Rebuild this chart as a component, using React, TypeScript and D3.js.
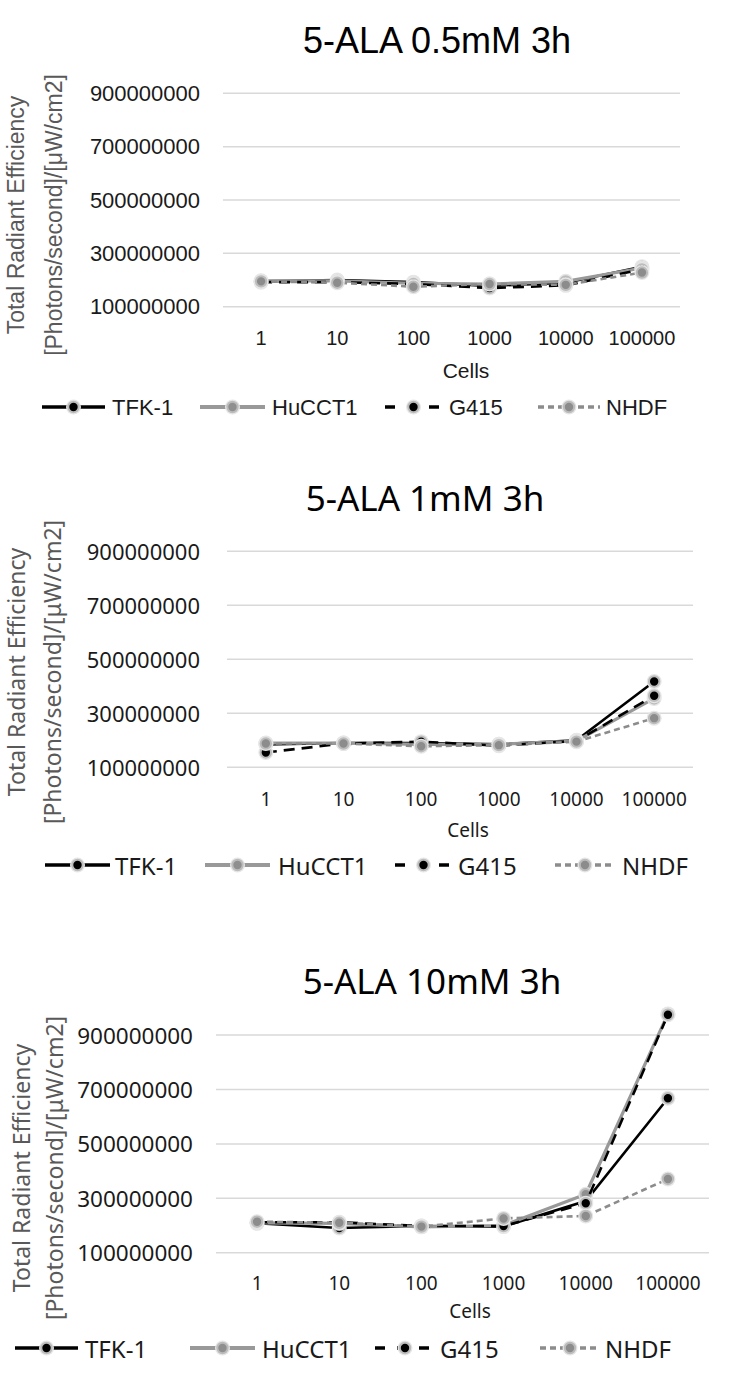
import React from "react";
import * as d3 from "d3";

const categories = ["1", "10", "100", "1000", "10000", "100000"];
const seriesNames = ["TFK-1", "HuCCT1", "G415", "NHDF"];
const yTicks = [100000000, 300000000, 500000000, 700000000, 900000000];
const chartTitles = ["5-ALA 0.5mM 3h", "5-ALA 1mM 3h", "5-ALA 10mM 3h"];

// values in units of 1e6
const c1TFK = [195, 200, 192, 178, 190, 250];
const c1HuCCT = [197, 197, 188, 185, 195, 245];
const c1G415 = [192, 192, 185, 170, 180, 240];
const c1NHDF = [195, 190, 175, 185, 182, 228];

const c2TFK = [185, 190, 190, 185, 200, 418];
const c2HuCCT = [190, 190, 185, 185, 198, 355];
const c2G415 = [155, 188, 195, 180, 198, 365];
const c2NHDF = [188, 188, 178, 182, 195, 282];

const c3TFK = [208, 191, 198, 196, 290, 668];
const c3HuCCT = [210, 208, 195, 200, 315, 978];
const c3G415 = [212, 212, 198, 198, 282, 975];
const c3NHDF = [214, 210, 196, 226, 235, 371];

const chartData = [
  [c1TFK, c1HuCCT, c1G415, c1NHDF],
  [c2TFK, c2HuCCT, c2G415, c2NHDF],
  [c3TFK, c3HuCCT, c3G415, c3NHDF],
];

const styles = [
  { stroke: "#000", width: 2.6, dash: "none", legDash: "none", fill: "#000" },
  { stroke: "#999", width: 3.2, dash: "none", legDash: "none", fill: "#8f8f8f" },
  { stroke: "#000", width: 2.6, dash: "11,7", legDash: "10,12", fill: "#000" },
  { stroke: "#8c8c8c", width: 2.6, dash: "6,4", legDash: "6,4", fill: "#8c8c8c" },
];

const layouts = [
  {
    font: "'Liberation Sans', Arial, sans-serif",
    left: 223, right: 680, y100: 306.7, per100: 26.67,
    titleX: 437, titleY: 40, titleSize: 36,
    yLabRight: 200, yLabSize: 22,
    xLabY: 338, xLabSize: 20,
    cellsX: 466, cellsY: 370, cellsSize: 21,
    ytX1: 24, ytX2: 62, ytY: 215, ytSize: 23,
    legY: 407, legSize: 22,
    leg: [
      { x1: 42, x2: 105, tx: 112 },
      { x1: 200, x2: 265, tx: 272 },
      { x1: 385, x2: 442, tx: 449 },
      { x1: 538, x2: 600, tx: 606 },
    ],
  },
  {
    font: "'Noto Sans', 'Open Sans', sans-serif",
    left: 227, right: 693, y100: 767.3, per100: 27,
    titleX: 425, titleY: 497, titleSize: 35,
    yLabRight: 200, yLabSize: 22,
    xLabY: 799, xLabSize: 19,
    cellsX: 468, cellsY: 830, cellsSize: 19,
    ytX1: 25, ytX2: 61, ytY: 672, ytSize: 23,
    legY: 865, legSize: 24,
    leg: [
      { x1: 45, x2: 110, tx: 115 },
      { x1: 205, x2: 270, tx: 278 },
      { x1: 395, x2: 452, tx: 458 },
      { x1: 555, x2: 615, tx: 622 },
    ],
  },
  {
    font: "'Noto Sans', 'Open Sans', sans-serif",
    left: 216, right: 709, y100: 1252.7, per100: 27.2,
    titleX: 432, titleY: 980, titleSize: 35,
    yLabRight: 193, yLabSize: 22.5,
    xLabY: 1283, xLabSize: 19,
    cellsX: 470, cellsY: 1311, cellsSize: 19,
    ytX1: 30, ytX2: 63, ytY: 1168, ytSize: 23,
    legY: 1348, legSize: 24,
    leg: [
      { x1: 15, x2: 78, tx: 85 },
      { x1: 190, x2: 255, tx: 262 },
      { x1: 375, x2: 435, tx: 440 },
      { x1: 540, x2: 600, tx: 605 },
    ],
  },
];

function Marker({ cx, cy, fill }: { cx: number; cy: number; fill: string }) {
  return (
    <g>
      <circle cx={cx} cy={cy} r={7.5} fill="#e6e6e6" />
      <circle cx={cx} cy={cy} r={5.2} fill={fill} stroke="#bcbcbc" strokeWidth={2} />
    </g>
  );
}

function Chart({ idx }: { idx: number }) {
  const L = layouts[idx];
  const data = chartData[idx];
  const x = d3.scaleBand<string>().domain(categories).range([L.left, L.right]);
  const y = d3
    .scaleLinear()
    .domain([100, 1000])
    .range([L.y100, L.y100 - 9 * L.per100]);
  const line = d3
    .line<number>()
    .x((_, i) => (x(categories[i]) as number) + x.bandwidth() / 2)
    .y((v) => y(v));
  return (
    <g fontFamily={L.font}>
      <text x={L.titleX} y={L.titleY} fontSize={L.titleSize} textAnchor="middle" dominantBaseline="central" fill="#000">
        {chartTitles[idx]}
      </text>
      {yTicks.map((t) => (
        <g key={t}>
          <line x1={L.left} x2={L.right} y1={y(t / 1e6)} y2={y(t / 1e6)} stroke="#d9d9d9" strokeWidth={1.5} />
          <text x={L.yLabRight} y={y(t / 1e6)} fontSize={L.yLabSize} textAnchor="end" dominantBaseline="central" fill="#1a1a1a">
            {String(t)}
          </text>
        </g>
      ))}
      {categories.map((c) => (
        <text key={c} x={(x(c) as number) + x.bandwidth() / 2} y={L.xLabY} fontSize={L.xLabSize} textAnchor="middle" dominantBaseline="central" fill="#1a1a1a">
          {c}
        </text>
      ))}
      <text x={L.cellsX} y={L.cellsY} fontSize={L.cellsSize} textAnchor="middle" dominantBaseline="central" fill="#1a1a1a">
        Cells
      </text>
      <text transform={`translate(${L.ytX1},${L.ytY}) rotate(-90)`} fontSize={L.ytSize} textAnchor="middle" fill="#595959">
        Total Radiant Efficiency
      </text>
      <text transform={`translate(${L.ytX2},${L.ytY}) rotate(-90)`} fontSize={L.ytSize} textAnchor="middle" fill="#595959">
        [Photons/second]/[μW/cm2]
      </text>
      {data.map((vals, si) => (
        <g key={si}>
          <path d={line(vals) || ""} fill="none" stroke={styles[si].stroke} strokeWidth={styles[si].width} strokeDasharray={styles[si].dash} />
          {vals.map((v, i) => (
            <Marker key={i} cx={(x(categories[i]) as number) + x.bandwidth() / 2} cy={y(v)} fill={styles[si].fill} />
          ))}
        </g>
      ))}
      {seriesNames.map((n, si) => {
        const it = L.leg[si];
        return (
          <g key={n}>
            <line x1={it.x1} x2={it.x2} y1={L.legY} y2={L.legY} stroke={styles[si].stroke} strokeWidth={styles[si].width + 0.8} strokeDasharray={styles[si].legDash} />
            <Marker cx={(it.x1 + it.x2) / 2} cy={L.legY} fill={styles[si].fill} />
            <text x={it.tx} y={L.legY} fontSize={L.legSize} dominantBaseline="central" fill="#1a1a1a">
              {n}
            </text>
          </g>
        );
      })}
    </g>
  );
}

export default function App() {
  return (
    <svg width={738} height={1394} style={{ position: "absolute", left: 0, top: 0, background: "#fff" }}>
      <rect width={738} height={1394} fill="#fff" />
      {[0, 1, 2].map((i) => (
        <Chart key={i} idx={i} />
      ))}
    </svg>
  );
}
